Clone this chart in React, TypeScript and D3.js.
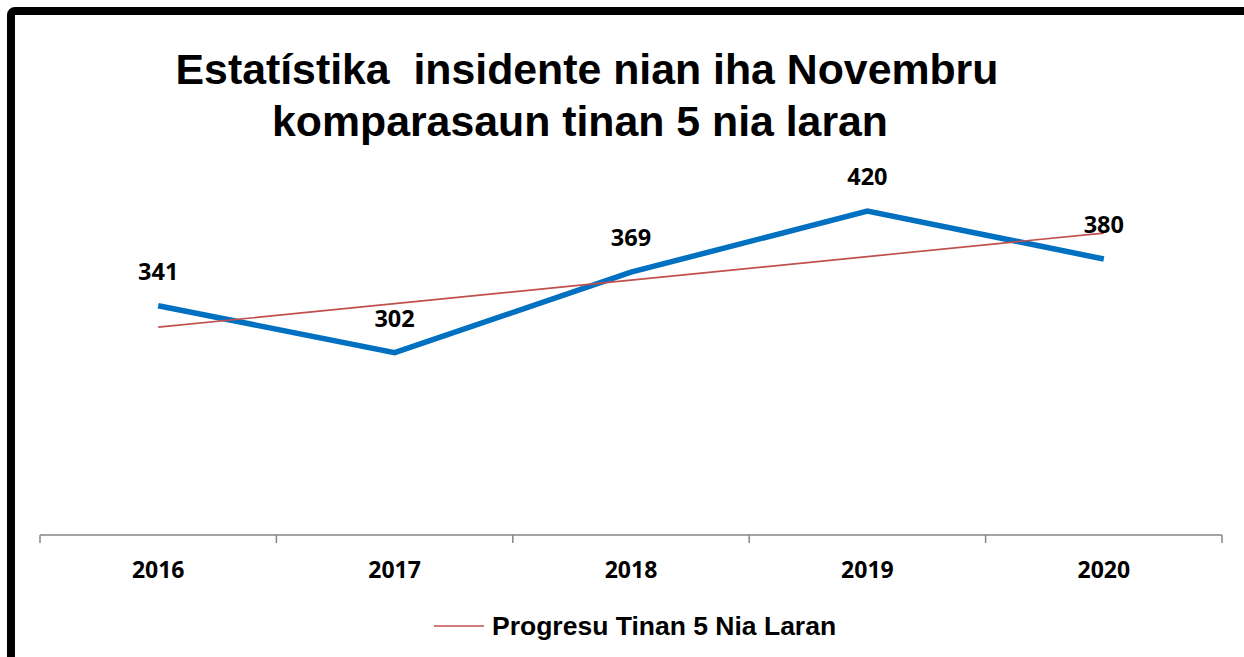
import React from "react";
import * as d3 from "d3";

const years = ["2016", "2017", "2018", "2019", "2020"];
const incidents = [341, 302, 369, 420, 380];
const titleLines = ["Estatístika\u00a0 insidente nian iha Novembru", "komparasaun tinan 5 nia laran"];
const legendLabel = "Progresu Tinan 5 Nia Laran";

const W = 1244;
const H = 657;

export default function App() {
  const x = d3.scaleBand<string>().domain(years).range([40, 1222]).paddingInner(0).paddingOuter(0);
  const y = d3.scaleLinear().domain([150, 450]).range([535, 175]);
  const cx = (d: string) => (x(d) as number) + x.bandwidth() / 2;

  // linear trend (least squares) of the series, like a spreadsheet trendline
  const idx = incidents.map((_, i) => i + 1);
  const mx = d3.mean(idx) as number;
  const my = d3.mean(incidents) as number;
  const slope =
    d3.sum(idx.map((t, i) => (t - mx) * (incidents[i] - my))) /
    d3.sum(idx.map((t) => (t - mx) * (t - mx)));
  const trend = idx.map((t) => my + slope * (t - mx));

  const line = d3
    .line<number>()
    .x((_, i) => cx(years[i]))
    .y((v) => y(v));

  const ticks = [...years.map((d) => x(d) as number), 1222];

  const sans = "'Liberation Sans', Arial, sans-serif";
  const lab = "'Open Sans', 'Noto Sans', sans-serif";

  return (
    <svg
      width={W}
      height={H}
      style={{ position: "absolute", left: 0, top: 0, background: "#fff" }}
    >
      <rect x={0} y={0} width={W} height={H} fill="#fff" />
      <rect x={11} y={11} width={W + 40} height={H + 40} rx={4} fill="none" stroke="#000" strokeWidth={8} />

      {/* title */}
      <text x={587} y={84} textAnchor="middle" fontFamily={sans} fontWeight="bold" fontSize={42.8} fill="#000">
        {titleLines[0]}
      </text>
      <text x={580} y={136} textAnchor="middle" fontFamily={sans} fontWeight="bold" fontSize={42.8} fill="#000">
        {titleLines[1]}
      </text>

      {/* axis */}
      <line x1={40} x2={1222} y1={y(150)} y2={y(150)} stroke="#868686" strokeWidth={1.5} />
      {ticks.map((t, i) => (
        <line key={i} x1={t} x2={t} y1={y(150)} y2={y(150) + 8} stroke="#868686" strokeWidth={1.5} />
      ))}
      {years.map((d) => (
        <text key={d} x={cx(d)} y={578} textAnchor="middle" fontFamily={lab} fontWeight="bold" fontSize={23} fill="#000">
          {d}
        </text>
      ))}

      {/* series */}
      <path d={line(incidents) || ""} fill="none" stroke="#0070C0" strokeWidth={5.5} strokeLinejoin="miter" />
      <path d={line(trend) || ""} fill="none" stroke="#C0504D" strokeWidth={1.6} />

      {incidents.map((v, i) => (
        <text key={i} x={cx(years[i])} y={y(v) - 26} textAnchor="middle" fontFamily={lab} fontWeight="bold" fontSize={23.5} fill="#000">
          {v}
        </text>
      ))}

      {/* legend */}
      <line x1={434} x2={484} y1={626} y2={626} stroke="#C0504D" strokeWidth={1.6} />
      <text x={492} y={635} fontFamily={sans} fontWeight="bold" fontSize={26.5} fill="#000">
        {legendLabel}
      </text>
    </svg>
  );
}
